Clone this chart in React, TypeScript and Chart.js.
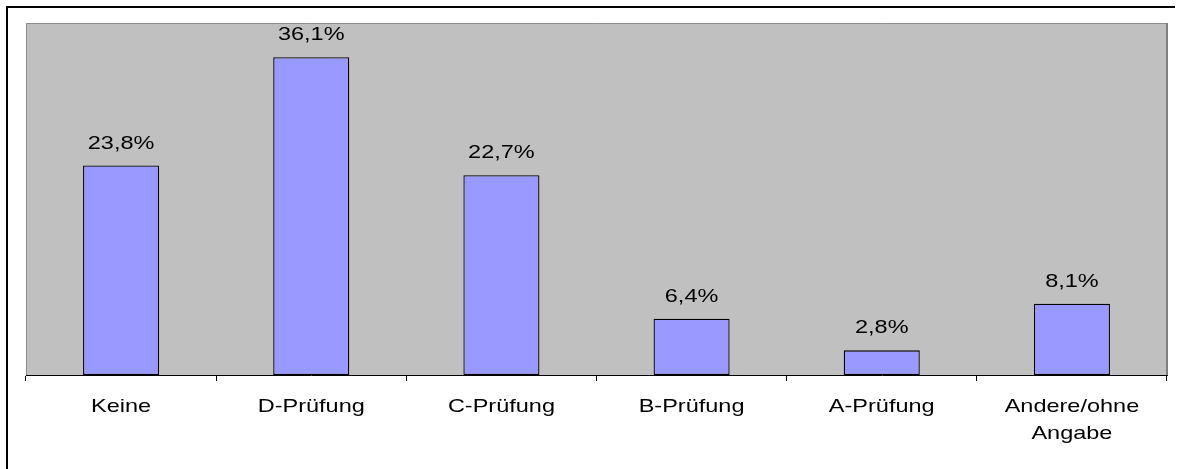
import React, { useEffect, useRef } from "react";
import { Chart, registerables } from "chart.js";

Chart.register(...registerables);

const categories: string[][] = [
  ["Keine"],
  ["D-Prüfung"],
  ["C-Prüfung"],
  ["B-Prüfung"],
  ["A-Prüfung"],
  ["Andere/ohne", "Angabe"],
];
const values: number[] = [23.8, 36.1, 22.7, 6.4, 2.8, 8.1];
const yMin = 0;
const yMax = 40;

const FONT = '18.5px "Liberation Sans", Arial, sans-serif';
const STRETCH = 1.27;

const customDraw = {
  id: "customDraw",
  beforeDraw(chart: any) {
    const { ctx, chartArea } = chart;
    ctx.save();
    ctx.fillStyle = "#ffffff";
    ctx.fillRect(0, 0, chart.width, chart.height);
    // outer frame (top & left visible)
    ctx.fillStyle = "#000000";
    ctx.fillRect(6, 6, 1169, 2);
    ctx.fillRect(6, 6, 2, chart.height - 6);
    // plot area
    const { left, top, right, bottom } = chartArea;
    ctx.fillStyle = "#C0C0C0";
    ctx.fillRect(left, top, right - left, bottom - top);
    ctx.strokeStyle = "#8c8c8c";
    ctx.lineWidth = 1;
    ctx.beginPath();
    ctx.moveTo(left + 0.5, bottom);
    ctx.lineTo(left + 0.5, top + 0.5);
    ctx.lineTo(right, top + 0.5);
    ctx.stroke();
    ctx.strokeStyle = "#808080";
    ctx.lineWidth = 2;
    ctx.beginPath();
    ctx.moveTo(right, top);
    ctx.lineTo(right, bottom);
    ctx.stroke();
    ctx.restore();
  },
  afterDraw(chart: any) {
    const { ctx, chartArea } = chart;
    const meta = chart.getDatasetMeta(0);
    const xScale = chart.scales.x;
    ctx.save();
    ctx.font = FONT;
    ctx.fillStyle = "#000000";
    ctx.textAlign = "center";
    ctx.textBaseline = "alphabetic";
    meta.data.forEach((bar: any, i: number) => {
      const txt = values[i].toFixed(1).replace(".", ",") + "%";
      ctx.save();
      ctx.translate(bar.x, bar.y - 17);
      ctx.scale(STRETCH, 1);
      ctx.fillText(txt, 0, 0);
      ctx.restore();
    });
    categories.forEach((lines, i) => {
      const x = xScale.getPixelForValue(i);
      lines.forEach((line, j) => {
        ctx.save();
        ctx.translate(x, chartArea.bottom + 36.5 + j * 27);
        ctx.scale(STRETCH, 1);
        ctx.fillText(line, 0, 0);
        ctx.restore();
      });
    });
    ctx.restore();
  },
};

export default function App() {
  const canvasRef = useRef<HTMLCanvasElement | null>(null);

  useEffect(() => {
    if (!canvasRef.current) return;
    const chart = new Chart(canvasRef.current, {
      type: "bar",
      data: {
        labels: categories.map((c) => c.join(" ")),
        datasets: [
          {
            data: values,
            backgroundColor: "#9999FF",
            borderColor: "#000000",
            borderWidth: 1.3,
            borderSkipped: false,
            categoryPercentage: 1,
            barPercentage: 0.4,
          },
        ],
      },
      options: {
        responsive: false,
        animation: false,
        devicePixelRatio: 1,
        layout: { padding: { left: 26, right: 13, top: 23, bottom: 0 } },
        plugins: {
          legend: { display: false },
          tooltip: { enabled: false },
          title: { display: false },
        },
        scales: {
          x: {
            offset: true,
            grid: {
              display: true,
              offset: true,
              drawOnChartArea: false,
              drawTicks: true,
              tickLength: 6,
              color: "#000000",
              lineWidth: 1,
            },
            border: { display: true, color: "#000000", width: 1 },
            ticks: { display: false },
            afterFit: (scale: any) => {
              scale.height = 94;
            },
          },
          y: {
            display: false,
            min: yMin,
            max: yMax,
          },
        },
      },
      plugins: [customDraw],
    });
    return () => chart.destroy();
  }, []);

  return (
    <div style={{ position: "absolute", left: 0, top: 0, width: 1180, height: 469, background: "#fff" }}>
      <canvas ref={canvasRef} width={1180} height={469} style={{ display: "block" }} />
    </div>
  );
}
